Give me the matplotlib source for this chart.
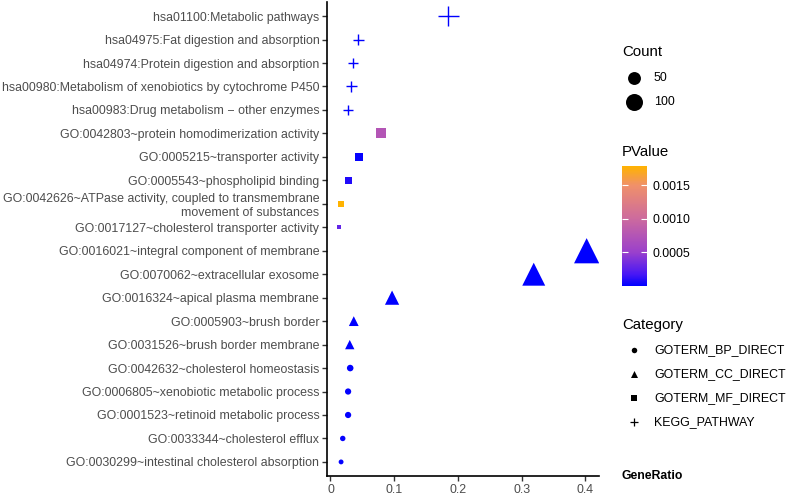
import numpy as np
import matplotlib
matplotlib.use('Agg')
from matplotlib import pyplot as plt
from matplotlib.colors import LinearSegmentedColormap, Normalize

# datos (de arriba a abajo)
terminos = [
    'hsa01100:Metabolic pathways',
    'hsa04975:Fat digestion and absorption',
    'hsa04974:Protein digestion and absorption',
    'hsa00980:Metabolism of xenobiotics by cytochrome P450',
    'hsa00983:Drug metabolism \u2212 other enzymes',
    'GO:0042803~protein homodimerization activity',
    'GO:0005215~transporter activity',
    'GO:0005543~phospholipid binding',
    'GO:0042626~ATPase activity, coupled to transmembrane\nmovement of substances',
    'GO:0017127~cholesterol transporter activity',
    'GO:0016021~integral component of membrane',
    'GO:0070062~extracellular exosome',
    'GO:0016324~apical plasma membrane',
    'GO:0005903~brush border',
    'GO:0031526~brush border membrane',
    'GO:0042632~cholesterol homeostasis',
    'GO:0006805~xenobiotic metabolic process',
    'GO:0001523~retinoid metabolic process',
    'GO:0033344~cholesterol efflux',
    'GO:0030299~intestinal cholesterol absorption',
]
categorias = ['KEGG_PATHWAY'] * 5 + ['GOTERM_MF_DIRECT'] * 5 + ['GOTERM_CC_DIRECT'] * 5 + ['GOTERM_BP_DIRECT'] * 5
gene_ratio = [0.185, 0.044, 0.0355, 0.033, 0.0277,
              0.080, 0.0444, 0.0277, 0.0167, 0.014,
              0.402, 0.319, 0.0967, 0.0366, 0.0303,
              0.031, 0.0277, 0.0277, 0.0193, 0.0167]
count = [46, 11, 9, 8, 7,
         20, 11, 7, 4, 3,
         100, 80, 24, 9, 8,
         8, 7, 7, 5, 4]
pvalue = [2e-6, 1e-7, 3e-6, 5e-6, 4e-6,
          7.5e-4, 2e-5, 8e-5, 1.79e-3, 2.8e-4,
          1e-12, 1e-15, 1e-8, 3e-6, 5e-6,
          4e-6, 8e-6, 8e-6, 2e-5, 1e-5]

orden_cat = ['GOTERM_BP_DIRECT', 'GOTERM_CC_DIRECT', 'GOTERM_MF_DIRECT', 'KEGG_PATHWAY']
forma = {'GOTERM_BP_DIRECT': 'o', 'GOTERM_CC_DIRECT': '^', 'GOTERM_MF_DIRECT': 's', 'KEGG_PATHWAY': '+'}
# px = k * unidad + b, segun la forma
escala_px = {'o': (2.7, 0.8), '^': (4.1, 0.6), 's': (2.8, 1.3), '+': (4.6, 0.5)}

DPI = 100
gris = '#4D4D4D'
plt.rcParams['font.family'] = ['Liberation Sans', 'DejaVu Sans']

cmap = LinearSegmentedColormap.from_list('pv', [
    (0.0, '#0000FF'), (0.1, '#4A18F4'), (0.28, '#9A40CC'), (0.56, '#CC6A9E'),
    (0.84, '#F0906A'), (1.0, '#FFB300')])
norm = Normalize(vmin=min(pvalue), vmax=max(pvalue))

cmin, cmax = min(count), max(count)


def tamanyo(c, marca):
    unidad = 1 + 5 * np.sqrt((np.asarray(c, float) - cmin) / (cmax - cmin))
    k, b = escala_px[marca]
    pt = (unidad * k + b) * 72 / DPI
    return pt ** 2


fig = plt.figure(figsize=(7.88, 4.94), dpi=DPI)
ax = fig.add_axes([327 / 788, 1 - 476 / 494, (599 - 327) / 788, (476 - 2) / 494])

n = len(terminos)
ypos = np.arange(n)[::-1]
for cat in orden_cat:
    idx = [i for i, c in enumerate(categorias) if c == cat]
    m = forma[cat]
    x = [gene_ratio[i] for i in idx]
    y = [ypos[i] for i in idx]
    colores = [cmap(norm(pvalue[i])) for i in idx]
    s = tamanyo([count[i] for i in idx], m)
    if m == '+':
        ax.scatter(x, y, s=s, marker=m, c=colores, linewidths=1.0)
    else:
        ax.scatter(x, y, s=s, marker=m, c=colores, linewidths=0)

r = max(gene_ratio) - min(gene_ratio)
ax.set_xlim(min(gene_ratio) - 0.05 * r, max(gene_ratio) + 0.05 * r)
ax.set_ylim(-0.6, n - 1 + 0.6)
ax.set_yticks(ypos)
ax.set_yticklabels(terminos, fontsize=8.9, color=gris, linespacing=1.15)
ax.set_xticks([0, 0.1, 0.2, 0.3, 0.4])
ax.set_xticklabels(['0', '0.1', '0.2', '0.3', '0.4'], fontsize=8.9, color=gris)
ax.tick_params(length=3.5, width=1.0, color='#333333', pad=2)
for lado in ['top', 'right']:
    ax.spines[lado].set_visible(False)
for lado in ['left', 'bottom']:
    ax.spines[lado].set_linewidth(1.2)

# leyenda Count
fig.text(622 / 788, 1 - 52 / 494, 'Count', fontsize=10.8, va='center', ha='left')
leg = fig.add_axes([0, 0, 1, 1], facecolor='none')
leg.set_xlim(0, 788)
leg.set_ylim(494, 0)
leg.axis('off')
for c, yy in zip([50, 100], [78, 102]):
    leg.scatter([634], [yy], s=tamanyo(c, 'o'), marker='o', color='black', linewidths=0)
    leg.text(654, yy, str(c), fontsize=8.9, va='center', ha='left', color='black')

# barra de color PValue
fig.text(622 / 788, 1 - 152 / 494, 'PValue', fontsize=10.8, va='center', ha='left')
cax = fig.add_axes([622 / 788, 1 - 286 / 494, 25 / 788, 120 / 494])
cb = fig.colorbar(plt.cm.ScalarMappable(norm=norm, cmap=cmap), cax=cax)
cb.outline.set_visible(False)
cb.set_ticks([0.0005, 0.0010, 0.0015])
cb.set_ticklabels(['0.0005', '0.0010', '0.0015'])
cax.tick_params(axis='y', which='both', direction='in', length=4, width=0.8, color='white',
                left=True, right=True, labelsize=8.9, labelcolor='black', pad=4)

# leyenda Category
fig.text(622 / 788, 1 - 325 / 494, 'Category', fontsize=10.8, va='center', ha='left')
for cat, yy in zip(orden_cat, [350, 374, 398, 422]):
    m = forma[cat]
    if m == '+':
        leg.scatter([634], [yy], s=(8 * 0.72) ** 2, marker=m, color='black', linewidths=0.9)
    else:
        k = {'o': 5.5, '^': 7, 's': 6}[m]
        leg.scatter([634], [yy], s=(k * 0.72) ** 2, marker=m, color='black', linewidths=0)
    leg.text(654, yy, cat, fontsize=8.9, va='center', ha='left', color='black')

fig.text(621 / 788, 1 - 476 / 494, 'GeneRatio', fontsize=8.8, fontweight='bold', va='center', ha='left')

fig.savefig('out.png', dpi=DPI)
